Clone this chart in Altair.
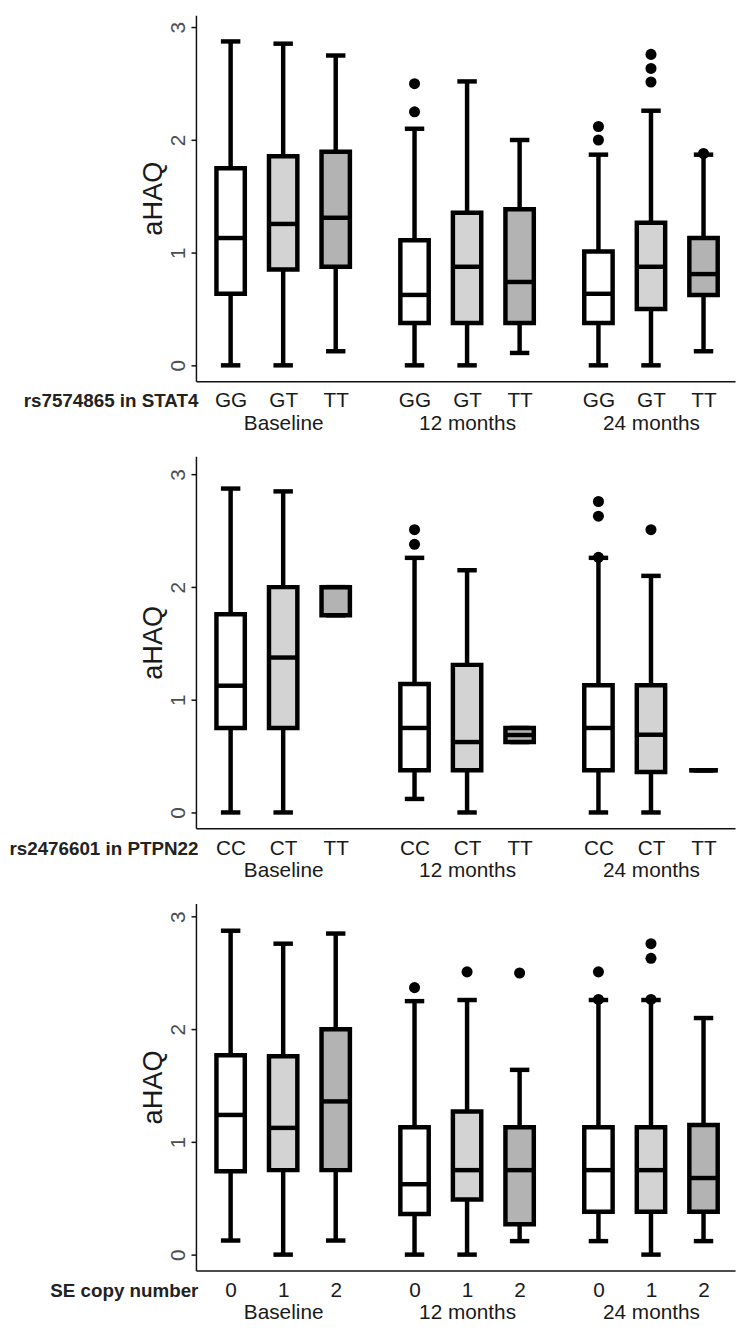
import altair as alt
import pandas as pd

TIME_POINTS = ["Baseline", "12 months", "24 months"]
FILLS = ["#ffffff", "#d3d3d3", "#b3b3b3"]

# ---- Panel 1: rs7574865 in STAT4 ----
stat4_label = "rs7574865 in STAT4"
stat4_genotypes = ["GG", "GT", "TT"]
stat4_low = [0.0, 0.0, 0.125, 0.0, 0.0, 0.11, 0.0, 0.0, 0.125]
stat4_q1 = [0.635, 0.85, 0.875, 0.375, 0.375, 0.375, 0.375, 0.5, 0.625]
stat4_med = [1.13, 1.255, 1.31, 0.625, 0.875, 0.74, 0.635, 0.875, 0.81]
stat4_q3 = [1.75, 1.855, 1.895, 1.11, 1.355, 1.385, 1.01, 1.265, 1.13]
stat4_high = [2.875, 2.855, 2.75, 2.1, 2.52, 2.0, 1.87, 2.26, 1.87]
stat4_out = [[], [], [], [2.5, 2.25], [], [], [2.12, 2.0], [2.76, 2.635, 2.515], [1.88]]

# ---- Panel 2: rs2476601 in PTPN22 ----
ptpn22_label = "rs2476601 in PTPN22"
ptpn22_genotypes = ["CC", "CT", "TT"]
ptpn22_low = [0.0, 0.0, 1.75, 0.12, 0.0, 0.625, 0.0, 0.0, 0.375]
ptpn22_q1 = [0.75, 0.75, 1.75, 0.375, 0.375, 0.625, 0.375, 0.36, 0.375]
ptpn22_med = [1.125, 1.375, 2.0, 0.75, 0.625, 0.6875, 0.75, 0.69, 0.375]
ptpn22_q3 = [1.76, 2.0, 2.0, 1.14, 1.31, 0.75, 1.13, 1.13, 0.375]
ptpn22_high = [2.875, 2.85, 2.0, 2.26, 2.15, 0.75, 2.26, 2.1, 0.375]
ptpn22_out = [[], [], [], [2.51, 2.38], [], [], [2.76, 2.63, 2.265], [2.51], []]

# ---- Panel 3: SE copy number ----
se_label = "SE copy number"
se_genotypes = ["0", "1", "2"]
se_low = [0.125, 0.0, 0.125, 0.0, 0.0, 0.12, 0.12, 0.0, 0.12]
se_q1 = [0.74, 0.75, 0.75, 0.36, 0.49, 0.27, 0.38, 0.38, 0.38]
se_med = [1.24, 1.125, 1.36, 0.625, 0.75, 0.75, 0.75, 0.75, 0.68]
se_q3 = [1.77, 1.76, 2.0, 1.13, 1.27, 1.13, 1.13, 1.13, 1.15]
se_high = [2.875, 2.76, 2.85, 2.25, 2.26, 1.64, 2.26, 2.26, 2.1]
se_out = [[], [], [], [2.37], [2.51], [2.5], [2.51, 2.265], [2.76, 2.63, 2.265], []]

STROKE = 4.5


def panel(row_label, genotypes, low, q1, med, q3, high, outliers, height, ymax):
    rows, out_rows = [], []
    k = 0
    for t, tp in enumerate(TIME_POINTS):
        for g, gt in enumerate(genotypes):
            pos = 1 + 3.5 * t + g
            rows.append(dict(pos=pos, time=tp, geno=gt, shade=str(g),
                             low=low[k], q1=q1[k], med=med[k], q3=q3[k], high=high[k]))
            for v in outliers[k]:
                out_rows.append(dict(pos=pos, val=v))
            k += 1
    box_df = pd.DataFrame(rows)
    out_df = pd.DataFrame(out_rows)

    parts = []
    for r in rows:
        if r["geno"] == genotypes[1]:
            lab = "['%s', '%s']" % (r["geno"], r["time"])
        else:
            lab = "'%s'" % r["geno"]
        parts.append("datum.value == %s ? %s" % (r["pos"], lab))
    expr = " : ".join(parts) + " : ''"

    xscale = alt.Scale(domain=[0.34, 10.6], nice=False, zero=False)
    xaxis = alt.Axis(values=[r["pos"] for r in rows], labelExpr=expr, ticks=False, tickSize=0,
                     labelPadding=9, labelFontSize=21, labelColor="#1a1a1a",
                     labelLineHeight=23, labelBaseline="top", labelOverlap=False,
                     labelFlush=False, domainColor="#111111", domainWidth=1.5, grid=False,
                     title=row_label, titleX=2, titleY=26, titleAlign="right",
                     titleBaseline="alphabetic", titleFontSize=19, titleFontWeight="bold",
                     titleColor="#222222", titleAngle=0)
    yscale = alt.Scale(domain=[-0.1405, ymax], nice=False, zero=False)
    yaxis = alt.Axis(values=[0, 1, 2, 3], format="d", labelAngle=270, labelFontSize=21,
                     labelColor="#4d4d4d", labelPadding=3, tickSize=5, tickWidth=1.5,
                     tickColor="#111111", domainColor="#111111", domainWidth=1.5, grid=False,
                     title="aHAQ", titleFontSize=27.5, titleFontWeight="normal",
                     titleColor="#1a1a1a", titlePadding=0)

    def X(f):
        return alt.X(f + ":Q", scale=xscale, axis=xaxis)

    def Y(f):
        return alt.Y(f + ":Q", scale=yscale, axis=yaxis)

    base = alt.Chart(box_df)
    whisk_lo = base.mark_rule(color="black", strokeWidth=STROKE).encode(x=X("pos"), y=Y("low"), y2="q1")
    whisk_hi = base.mark_rule(color="black", strokeWidth=STROKE).encode(x=X("pos"), y=Y("q3"), y2="high")
    capped = base.transform_calculate(cl="datum.pos - 0.185", cr="datum.pos + 0.185")
    cap_lo = capped.mark_rule(color="black", strokeWidth=STROKE).encode(x=X("cl"), x2="cr", y=Y("low"))
    cap_hi = capped.mark_rule(color="black", strokeWidth=STROKE).encode(x=X("cl"), x2="cr", y=Y("high"))
    boxed = base.transform_calculate(bl="datum.pos - 0.27", br="datum.pos + 0.27")
    box = boxed.mark_rect(stroke="black", strokeWidth=STROKE).encode(
        x=X("bl"), x2="br", y=Y("q1"), y2="q3",
        fill=alt.Fill("shade:N", scale=alt.Scale(domain=["0", "1", "2"], range=FILLS), legend=None))
    median = boxed.mark_rule(color="black", strokeWidth=STROKE).encode(x=X("bl"), x2="br", y=Y("med"))
    layers = [whisk_lo, whisk_hi, cap_lo, cap_hi, box, median]
    if len(out_df):
        layers.append(alt.Chart(out_df).mark_circle(size=125, color="black", opacity=1)
                      .encode(x=X("pos"), y=Y("val")))
    return alt.layer(*layers).properties(width=545, height=height)


p1 = panel(stat4_label, stat4_genotypes, stat4_low, stat4_q1, stat4_med, stat4_q3, stat4_high,
           stat4_out, 370, 3.108)
p2 = panel(ptpn22_label, ptpn22_genotypes, ptpn22_low, ptpn22_q1, ptpn22_med, ptpn22_q3,
           ptpn22_high, ptpn22_out, 376, 3.161)
p3 = panel(se_label, se_genotypes, se_low, se_q1, se_med, se_q3, se_high, se_out, 371, 3.117)

chart = (
    alt.vconcat(p1, p2, p3, spacing=76, bounds="flush")
    .properties(padding={"left": 0, "top": 0, "right": 5, "bottom": 5})
    .configure(font="Liberation Sans")
    .configure_view(stroke=None)
)

chart.save("out.html", embed_options={"renderer": "svg", "actions": False})
